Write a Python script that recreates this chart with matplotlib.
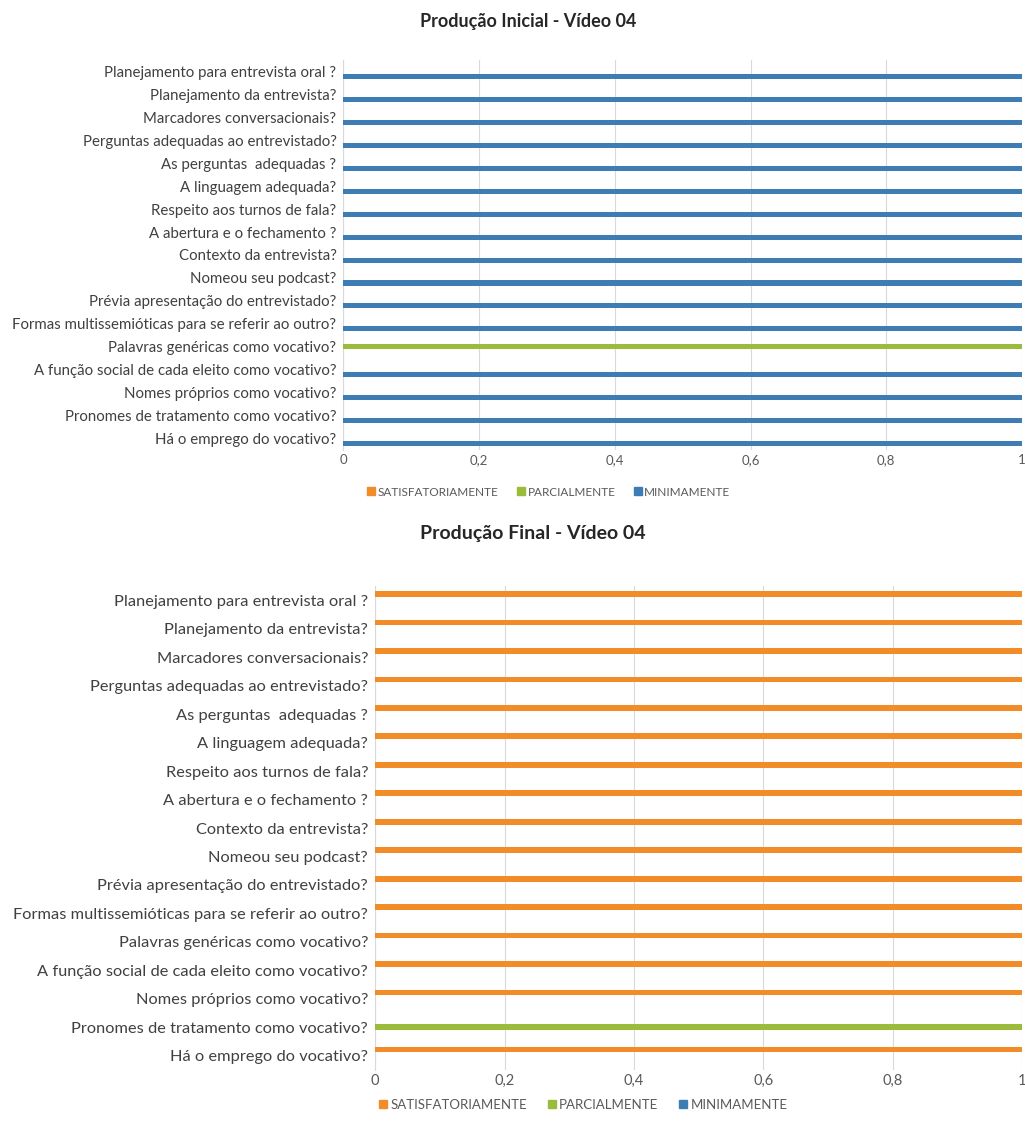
import numpy as np
import matplotlib.pyplot as plt
from matplotlib.lines import Line2D

plt.rcParams['font.family'] = ['Lato', 'DejaVu Sans']

# categories, bottom to top (Excel order)
categories = [
    'Há o emprego do vocativo?',
    'Pronomes de tratamento como vocativo?',
    'Nomes próprios como vocativo?',
    'A função social de cada eleito como vocativo?',
    'Palavras genéricas como vocativo?',
    'Formas multissemióticas para se referir ao outro?',
    'Prévia apresentação do entrevistado?',
    'Nomeou seu podcast?',
    'Contexto da entrevista?',
    'A abertura e o fechamento ?',
    'Respeito aos turnos de fala?',
    'A linguagem adequada?',
    'As perguntas  adequadas ?',
    'Perguntas adequadas ao entrevistado?',
    'Marcadores conversacionais?',
    'Planejamento da entrevista?',
    'Planejamento para entrevista oral ?',
]
series_names = ['SATISFATORIAMENTE', 'PARCIALMENTE', 'MINIMAMENTE']
colors = ['#F28C28', '#9BBB3B', '#3E7DB3']

# Produção Inicial
ini_satisf = [0, 0, 0, 0, 0, 0, 0, 0, 0, 0, 0, 0, 0, 0, 0, 0, 0]
ini_parcial = [0, 0, 0, 0, 1, 0, 0, 0, 0, 0, 0, 0, 0, 0, 0, 0, 0]
ini_minim = [1, 1, 1, 1, 0, 1, 1, 1, 1, 1, 1, 1, 1, 1, 1, 1, 1]

# Produção Final
fin_satisf = [1, 0, 1, 1, 1, 1, 1, 1, 1, 1, 1, 1, 1, 1, 1, 1, 1]
fin_parcial = [0, 1, 0, 0, 0, 0, 0, 0, 0, 0, 0, 0, 0, 0, 0, 0, 0]
fin_minim = [0, 0, 0, 0, 0, 0, 0, 0, 0, 0, 0, 0, 0, 0, 0, 0, 0]

xticks = [0, 0.2, 0.4, 0.6, 0.8, 1]
xticklabels = ['0', '0,2', '0,4', '0,6', '0,8', '1']


def draw(fig, ax, values, title, cat_size, tick_size, title_size,
         title_x, title_y, legend_x, legend_y, legend_size, bar_h):
    y = np.arange(len(categories))
    offsets = [0.22, 0.0, -0.22]
    for vals, off, c in zip(values, offsets, colors):
        ax.barh(y + off, vals, height=bar_h, color=c, zorder=3)
    ax.set_xlim(0, 1)
    ax.set_ylim(-0.5, len(categories) - 0.5)
    ax.set_yticks(y)
    ax.set_yticklabels(categories, fontsize=cat_size, color='#404040')
    ax.set_xticks(xticks)
    ax.set_xticklabels(xticklabels, fontsize=tick_size, color='#595959')
    ax.tick_params(axis='y', length=0, pad=5)
    ax.tick_params(axis='x', length=0, pad=3)
    ax.xaxis.grid(True, color='#D9D9D9', linewidth=0.8, zorder=0)
    for s in ax.spines.values():
        s.set_visible(False)
    ax.spines['left'].set_visible(True)
    ax.spines['left'].set_color('#D9D9D9')
    fig.text(title_x, title_y, title, ha='center', va='center',
             fontsize=title_size, fontweight='bold', color='#262626')
    handles = [Line2D([], [], marker='s', linestyle='', color=c, markersize=5.5)
               for c in colors]
    fig.legend(handles, series_names, loc='center', ncol=3,
               bbox_to_anchor=(legend_x, legend_y), frameon=False,
               fontsize=legend_size, handletextpad=0.05, columnspacing=1.4,
               handlelength=1.0, labelcolor='#595959')


fig = plt.figure(figsize=(10.25, 11.47), dpi=100)
ax1 = fig.add_axes([0.335, 1 - 450 / 1147, 0.662, 390 / 1147])
ax2 = fig.add_axes([0.366, 1 - 1070 / 1147, 0.631, 484 / 1147])

draw(fig, ax1, [ini_satisf, ini_parcial, ini_minim], 'Produção Inicial - Vídeo 04',
     10.8, 9.5, 13, 0.515, 1 - 22 / 1147, 548 / 1025, 1 - 492 / 1147, 8.5, 0.22)
draw(fig, ax2, [fin_satisf, fin_parcial, fin_minim], 'Produção Final - Vídeo 04',
     11.8, 10.5, 14, 0.52, 1 - 533 / 1147, 582 / 1025, 1 - 1105 / 1147, 9.5, 0.2)

fig.savefig('out.png', dpi=100)
